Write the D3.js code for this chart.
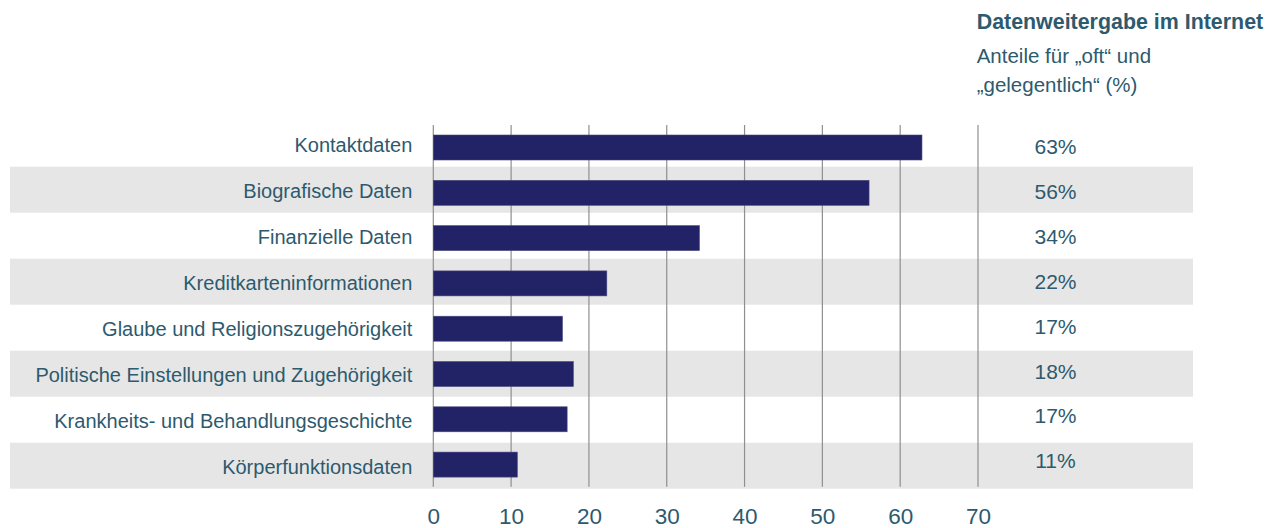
<!DOCTYPE html>
<html>
<head>
<meta charset="utf-8">
<script src="https://cdn.jsdelivr.net/npm/d3@7"></script>
<style>
  body { margin: 0; background: #fff; }
  svg { display: block; font-family: "Liberation Sans", Arial, sans-serif; }
</style>
</head>
<body>
<svg id="chart" width="1273" height="528"></svg>
<script>
// data
const categories = [
  "Kontaktdaten",
  "Biografische Daten",
  "Finanzielle Daten",
  "Kreditkarteninformationen",
  "Glaube und Religionszugehörigkeit",
  "Politische Einstellungen und Zugehörigkeit",
  "Krankheits- und Behandlungsgeschichte",
  "Körperfunktionsdaten"
];
const values = [62.8, 56, 34.2, 22.3, 16.6, 18.0, 17.2, 10.8];
const xTicks = [0, 10, 20, 30, 40, 50, 60, 70];
const title = "Datenweitergabe im Internet";
const subtitle = ["Anteile für „oft“ und", "„gelegentlich“ (%)"];

const textColor = "#2d5a6e";
const barColor = "#222266";

const svg = d3.select("#chart");

const x = d3.scaleLinear().domain([0, 70]).range([433.3, 978]);

// row stripes
const yRow = d3.scaleBand().domain(categories).range([120.7, 488.7]);
// bars sit on a slightly tighter pitch than the stripes
const yBar = d3.scaleBand().domain(categories).range([135, 477.1]).paddingInner(0.448);
// value labels on the right
const yPct = d3.scalePoint().domain(categories).range([154.3, 468.3]);

svg.append("g")
  .selectAll("rect")
  .data(categories.filter((d, i) => i % 2 === 1))
  .join("rect")
  .attr("x", 10)
  .attr("width", 1183)
  .attr("y", d => yRow(d))
  .attr("height", yRow.bandwidth())
  .attr("fill", "#e6e6e6");

// grid lines
svg.append("g")
  .selectAll("line")
  .data(xTicks)
  .join("line")
  .attr("x1", d => x(d))
  .attr("x2", d => x(d))
  .attr("y1", 125)
  .attr("y2", 486.7)
  .attr("stroke", "#8f8f8f")
  .attr("stroke-width", 1.2);

// bars
svg.append("g")
  .selectAll("rect")
  .data(values)
  .join("rect")
  .attr("x", x(0))
  .attr("y", (d, i) => yBar(categories[i]))
  .attr("width", d => x(d) - x(0))
  .attr("height", yBar.bandwidth())
  .attr("fill", barColor)
  .attr("stroke", "#4a4a80")
  .attr("stroke-width", 0.6);

// category labels
svg.append("g")
  .selectAll("text")
  .data(categories)
  .join("text")
  .attr("x", 412.3)
  .attr("y", d => yRow(d) + 31.5)
  .attr("text-anchor", "end")
  .attr("font-size", 20)
  .attr("fill", textColor)
  .text(d => d);

// percent labels
svg.append("g")
  .selectAll("text")
  .data(values)
  .join("text")
  .attr("x", 1055.5)
  .attr("y", (d, i) => yPct(categories[i]))
  .attr("text-anchor", "middle")
  .attr("font-size", 21)
  .attr("fill", textColor)
  .text(d => Math.round(d) + "%");

// x axis labels
const axis = svg.append("g")
  .attr("transform", "translate(0,524)")
  .call(d3.axisBottom(x).tickValues(xTicks).tickSize(0).tickPadding(0));
axis.select(".domain").remove();
axis.selectAll("text")
  .attr("y", 0)
  .attr("dy", 0)
  .attr("font-size", 22.5)
  .attr("font-family", "\"Liberation Sans\", Arial, sans-serif")
  .attr("fill", textColor);

// title block
svg.append("text")
  .attr("x", 976.7)
  .attr("y", 29.3)
  .attr("font-size", 21.4)
  .attr("font-weight", "bold")
  .attr("fill", textColor)
  .text(title);

svg.append("g")
  .selectAll("text")
  .data(subtitle)
  .join("text")
  .attr("x", 976.7)
  .attr("y", (d, i) => 63.3 + i * 28.4)
  .attr("font-size", 20.5)
  .attr("fill", textColor)
  .text(d => d);
</script>
</body>
</html>
